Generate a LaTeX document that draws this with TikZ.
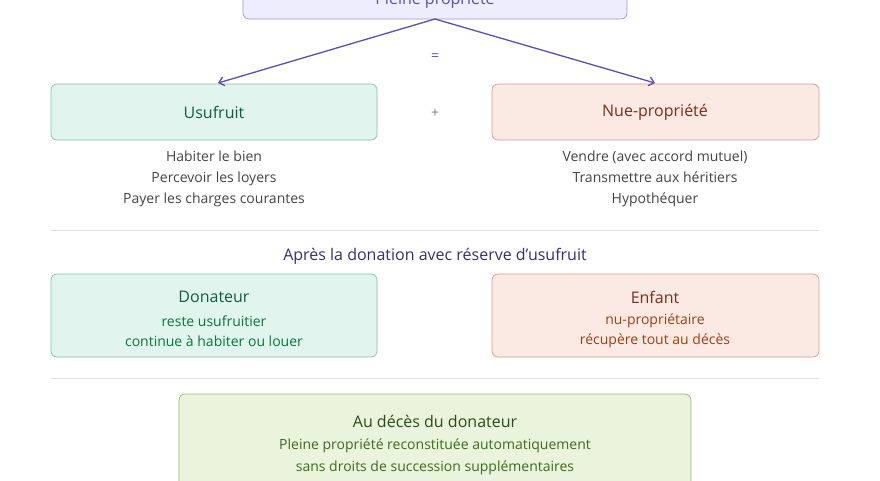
\documentclass[tikz,border=0pt]{standalone}
\usepackage{fontspec}
\setmainfont{Open Sans}
\usetikzlibrary{positioning,calc,arrows.meta}
\definecolor{purpleln}{HTML}{5B4FB5}
\definecolor{purplebg}{HTML}{EEEDFE}
\definecolor{greenbg}{HTML}{E1F5EE}
\definecolor{greenln}{HTML}{7FC4A8}
\definecolor{greentx}{HTML}{0B5E45}
\definecolor{redbg}{HTML}{FBEAE3}
\definecolor{redln}{HTML}{D99A85}
\definecolor{redtx}{HTML}{7A2E17}
\definecolor{limebg}{HTML}{EAF3DC}
\definecolor{limeln}{HTML}{9CB87A}
\definecolor{limetx}{HTML}{3B6D1C}
\definecolor{greytx}{HTML}{444444}
\tikzset{
  box/.style={draw, rounded corners=6pt, line width=0.7pt, inner sep=0pt},
  title/.style={font=\fontsize{16}{18}\selectfont},
  body/.style={font=\fontsize{14}{16}\selectfont},
}
\begin{document}
\begin{tikzpicture}[x=1pt,y=-1pt]
	\useasboundingbox (0,0) rectangle (880,480);
	\begin{scope}
		\clip (0,0) rectangle (880,480);

		% top
		\draw [box, purpleln!60, fill=purplebg] (243,-40) rectangle (627,19);
		\node [title, text=purpleln] (pp) at (435,0) {Pleine propriété};
		\coordinate (top) at (435,19);

		% split
		\draw [box, greenln, fill=greenbg] (51,84) rectangle (377,140);
		\node [title, text=greentx] (us) at (214,112) {Usufruit};
		\draw [box, redln, fill=redbg] (492,84) rectangle (819,140);
		\node [title, text=redtx] (np) at (655,112) {Nue-propriété};
		\coordinate (usin) at (218,83);
		\coordinate (npin) at (655,83);
		\draw [purpleln, line width=1.3pt, -{Straight Barb[length=5pt,width=9pt]}] (top) -- (usin);
		\draw [purpleln, line width=1.3pt, -{Straight Barb[length=5pt,width=9pt]}] (top) -- (npin);
		\node [body, text=purpleln] (eq) at (435,57) {=};
		\node [body, text=gray] (plus) at (435,113) {+};

		\node [body, text=greytx, align=center] (uslist) at (214,179)
			{Habiter le bien\\[5pt]Percevoir les loyers\\[5pt]Payer les charges courantes};
		\node [body, text=greytx, align=center] (nplist) at (655,179)
			{Vendre (avec accord mutuel)\\[5pt]Transmettre aux héritiers\\[5pt]Hypothéquer};

		% after
		\draw [black!12, line width=0.8pt] (51,230) -- (819,230);
		\node [title, text=purpleln!60!black] (apres) at (435,256) {Après la donation avec réserve d'usufruit};

		\draw [box, greenln, fill=greenbg] (51,274) rectangle (377,357);
		\node [title, text=greentx] (don) at (214,297) {Donateur};
		\node [body, text=greentx!85!green, align=center] (dontx) at (214,331)
			{reste usufruitier\\[4pt]continue à habiter ou louer};
		\draw [box, redln, fill=redbg] (492,274) rectangle (819,357);
		\node [title, text=redtx] (enf) at (655,297) {Enfant};
		\node [body, text=redtx!75!orange, align=center] (enftx) at (655,331)
			{nu-propriétaire\\[4pt]récupère tout au décès};

		% death
		\draw [black!12, line width=0.8pt] (51,378) -- (819,378);
		\draw [box, limeln, fill=limebg] (179,394) rectangle (691,520);
		\node [title, text=limetx!70!black] (dec) at (435,421) {Au décès du donateur};
		\node [body, text=limetx, align=center] (dectx) at (435,457)
			{Pleine propriété reconstituée automatiquement\\[6pt]sans droits de succession supplémentaires};
	\end{scope}
\end{tikzpicture}
\end{document}
